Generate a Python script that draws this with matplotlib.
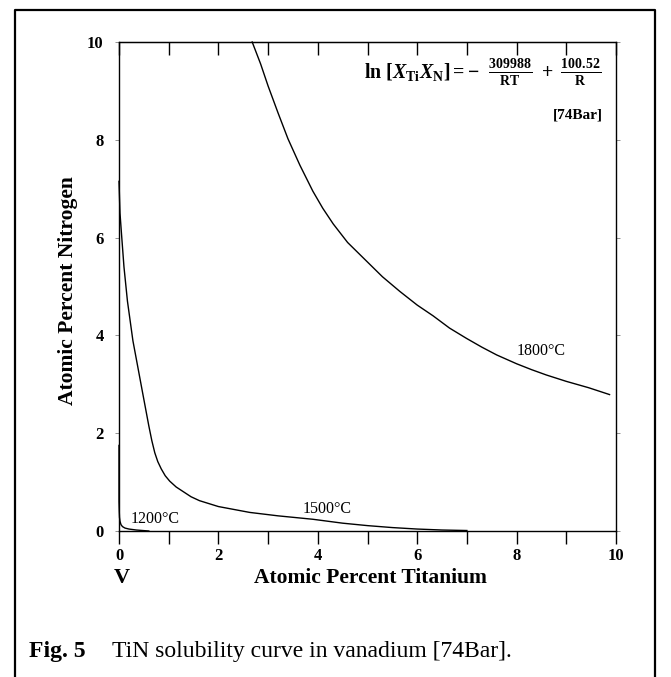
import matplotlib.pyplot as plt
from matplotlib.lines import Line2D

# values (atomic % Ti, atomic % N)
ti_1800 = [2.68, 2.85, 3.0, 3.2, 3.4, 3.64, 3.9, 4.1, 4.31, 4.6, 4.98, 5.3, 5.65, 6.0, 6.32,
           6.65, 6.99, 7.3, 7.6, 8.0, 8.3, 8.6, 9.0, 9.45, 9.87]
n_1800 = [10.0, 9.55, 9.1, 8.55, 8.02, 7.48, 6.95, 6.6, 6.28, 5.9, 5.52, 5.2, 4.9, 4.62, 4.4,
          4.15, 3.94, 3.76, 3.6, 3.42, 3.3, 3.19, 3.06, 2.93, 2.79]

ti_1500 = [0.0, 0.02, 0.05, 0.10, 0.17, 0.28, 0.37, 0.48, 0.60, 0.66, 0.72, 0.78, 0.85, 0.93,
           1.02, 1.15, 1.30, 1.45, 1.62, 2.00, 2.63, 3.20, 3.90, 4.50, 5.00, 5.50, 6.00, 6.50, 7.00]
n_1500 = [7.15, 6.50, 6.08, 5.40, 4.70, 3.89, 3.40, 2.80, 2.15, 1.85, 1.60, 1.42, 1.27, 1.13,
          1.02, 0.90, 0.80, 0.70, 0.62, 0.50, 0.38, 0.31, 0.24, 0.16, 0.11, 0.07, 0.04, 0.02, 0.01]

ti_1200 = [0.0, 0.0, 0.005, 0.01, 0.02, 0.04, 0.07, 0.12, 0.20, 0.35, 0.60]
n_1200 = [1.75, 0.60, 0.40, 0.28, 0.20, 0.13, 0.09, 0.06, 0.04, 0.02, 0.0]

curve_labels = ['1800°C', '1500°C', '1200°C']
label_pos = [(8.49, 3.68), (4.18, 0.44), (0.73, 0.24)]

x_major = [0, 2, 4, 6, 8, 10]
x_minor = [1, 3, 5, 7, 9]
y_major = [0, 2, 4, 6, 8, 10]

plt.rcParams['font.family'] = ['Liberation Serif', 'DejaVu Serif']
plt.rcParams['mathtext.fontset'] = 'custom'
plt.rcParams['mathtext.rm'] = 'Liberation Serif:bold'
plt.rcParams['mathtext.it'] = 'Liberation Serif:italic:bold'
plt.rcParams['mathtext.bf'] = 'Liberation Serif:bold'

W, H = 671, 677
fig = plt.figure(figsize=(W / 100, H / 100), dpi=100)
ax = fig.add_axes([119 / W, 1 - 531 / H, (616 - 119) / W, (531 - 42) / H])

for xs, ys in [(ti_1800, n_1800), (ti_1500, n_1500), (ti_1200, n_1200)]:
    ax.plot(xs, ys, color='black', lw=1.0, clip_on=False)

for lab, (lx, ly) in zip(curve_labels, label_pos):
    ax.text(lx, ly, lab, fontsize=11.5, ha='center', va='center')

ax.set_xlim(0, 10)
ax.set_ylim(0, 10)

ax.set_xticks(x_major)
ax.set_xticks(x_minor, minor=True)
ax.set_yticks(y_major)
ax.tick_params(axis='x', which='both', direction='out', length=9, width=1.0, pad=3,
               labelsize=12)
ax.tick_params(axis='y', which='both', direction='out', length=3, width=0.6,
               color='0.5', right=True, labelsize=12, pad=8)
for t in ax.get_xticklabels() + ax.get_yticklabels():
    t.set_fontweight('bold')

# top ticks point down into the plot
top = ax.secondary_xaxis('top')
top.set_xticks(x_major + x_minor)
top.tick_params(direction='in', length=9, width=1.0, labeltop=False)

for s in ax.spines.values():
    s.set_linewidth(1.0)

ax.text(9.71, 9.37,
        r'$\mathrm{ln}\ [X_{\mathrm{Ti}}X_{\mathrm{N}}] = -\ \ \frac{309988}{\mathrm{RT}}\ +\ \frac{100.52}{\mathrm{R}}$',
        fontsize=14.3, ha='right', va='center')
ax.text(9.73, 8.51, '[74Bar]', fontsize=11, fontweight='bold', ha='right', va='center')

fig.text(370.5 / W, 1 - 578 / H, 'Atomic Percent Titanium', fontsize=15.5, fontweight='bold',
         ha='center', va='center')
fig.text(122 / W, 1 - 578 / H, 'V', fontsize=16, fontweight='bold', ha='center', va='center')
fig.text(68 / W, 1 - 291 / H, 'Atomic Percent Nitrogen', fontsize=15.5, fontweight='bold',
         ha='center', va='center', rotation=90)

fig.text(29 / W, 1 - 652 / H, 'Fig. 5', fontsize=17, fontweight='bold', va='center')
fig.text(112 / W, 1 - 652 / H, 'TiN solubility curve in vanadium [74Bar].', fontsize=17,
         va='center')

# frame around the figure, open at the bottom
fig.add_artist(Line2D([15 / W, 15 / W, 655 / W, 655 / W], [0, 1 - 9.5 / H, 1 - 9.5 / H, 0],
                      transform=fig.transFigure, color='black', lw=1.6))

fig.savefig('out.png', dpi=100)
